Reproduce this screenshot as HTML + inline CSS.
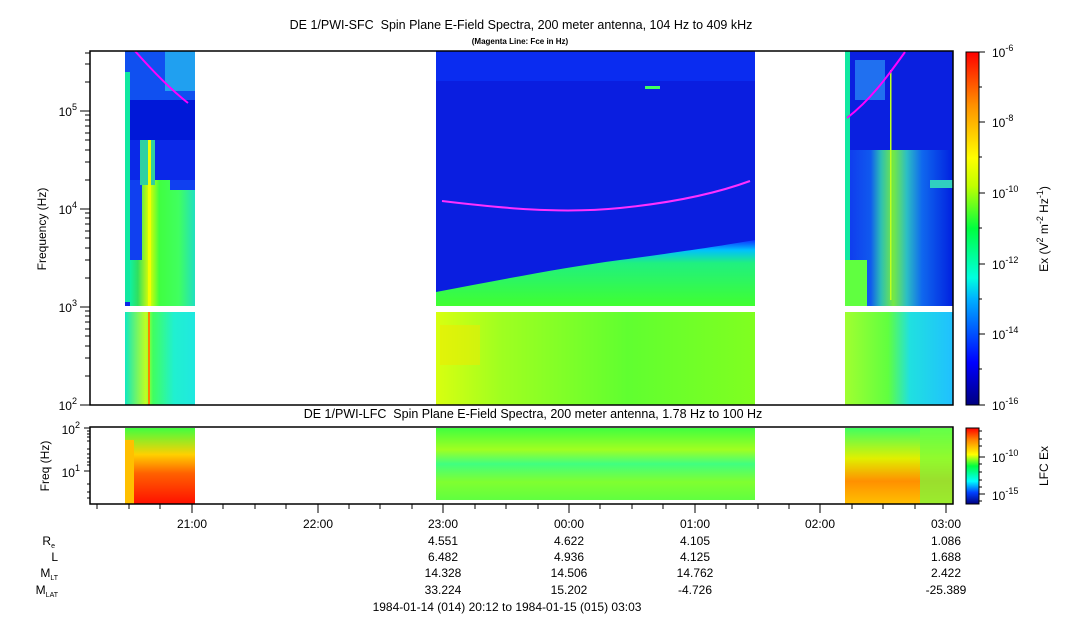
<!DOCTYPE html>
<html><head><meta charset="utf-8"><style>
body{margin:0;background:#fff;}
svg{display:block;font-family:"Liberation Sans",sans-serif;}
</style></head><body>
<svg width="1083" height="620" viewBox="0 0 1083 620" xmlns="http://www.w3.org/2000/svg">
<defs>
<linearGradient id="cb" x1="0" y1="1" x2="0" y2="0">
<stop offset="0" stop-color="#00007f"/><stop offset="0.12" stop-color="#0000ff"/>
<stop offset="0.3" stop-color="#00b0ff"/><stop offset="0.36" stop-color="#00ffe0"/>
<stop offset="0.5" stop-color="#00ff40"/><stop offset="0.62" stop-color="#c0ff00"/>
<stop offset="0.7" stop-color="#ffff00"/><stop offset="0.85" stop-color="#ff9000"/>
<stop offset="1" stop-color="#ff0000"/></linearGradient>
<linearGradient id="cb2" x1="0" y1="1" x2="0" y2="0">
<stop offset="0" stop-color="#00007f"/><stop offset="0.15" stop-color="#0040ff"/>
<stop offset="0.3" stop-color="#00ffff"/><stop offset="0.5" stop-color="#00ff40"/>
<stop offset="0.65" stop-color="#ffff00"/><stop offset="0.85" stop-color="#ff8000"/>
<stop offset="1" stop-color="#ff0000"/></linearGradient>
<linearGradient id="s2low" x1="0" y1="0" x2="0" y2="1">
<stop offset="0" stop-color="#1030ff"/><stop offset="0.15" stop-color="#00c0ff"/>
<stop offset="0.35" stop-color="#20f080"/><stop offset="1" stop-color="#40ff30"/></linearGradient>
<linearGradient id="s2b" x1="0" y1="0" x2="1" y2="0">
<stop offset="0" stop-color="#d8ff10"/><stop offset="0.2" stop-color="#a0ff20"/>
<stop offset="0.6" stop-color="#60ff30"/><stop offset="1" stop-color="#80ff20"/></linearGradient>
<linearGradient id="s1a" x1="0" y1="0" x2="1" y2="0">
<stop offset="0" stop-color="#10f0a0"/><stop offset="0.12" stop-color="#30e060"/>
<stop offset="0.3" stop-color="#e0ff00"/><stop offset="0.45" stop-color="#40ff40"/>
<stop offset="0.75" stop-color="#40ff60"/><stop offset="1" stop-color="#20e0c0"/></linearGradient>
<linearGradient id="s1b" x1="0" y1="0" x2="1" y2="0">
<stop offset="0" stop-color="#10e8c0"/><stop offset="0.3" stop-color="#c0ff20"/>
<stop offset="0.4" stop-color="#40ff60"/><stop offset="0.7" stop-color="#20f0d0"/>
<stop offset="1" stop-color="#20e8e0"/></linearGradient>
<linearGradient id="s3a" x1="0" y1="0" x2="1" y2="0">
<stop offset="0" stop-color="#1040f0"/><stop offset="0.2" stop-color="#1060f0"/>
<stop offset="0.3" stop-color="#30d0b0"/><stop offset="0.42" stop-color="#80ff30"/>
<stop offset="0.55" stop-color="#30d0c0"/><stop offset="0.7" stop-color="#1070f0"/><stop offset="1" stop-color="#0020e0"/></linearGradient>
<linearGradient id="s3b" x1="0" y1="0" x2="1" y2="0">
<stop offset="0" stop-color="#a0ff30"/><stop offset="0.4" stop-color="#60ff40"/>
<stop offset="0.6" stop-color="#20e0e0"/><stop offset="1" stop-color="#20c0ff"/></linearGradient>
<linearGradient id="l1" x1="0" y1="0" x2="0" y2="1">
<stop offset="0" stop-color="#40ff40"/><stop offset="0.35" stop-color="#ffd000"/>
<stop offset="0.6" stop-color="#ff6000"/><stop offset="1" stop-color="#ff1000"/></linearGradient>
<linearGradient id="l2" x1="0" y1="0" x2="0" y2="1">
<stop offset="0" stop-color="#40ff40"/><stop offset="0.3" stop-color="#a0ff20"/>
<stop offset="0.5" stop-color="#40ff80"/><stop offset="0.75" stop-color="#80ff30"/>
<stop offset="1" stop-color="#60ff40"/></linearGradient>
<linearGradient id="l3" x1="0" y1="0" x2="0" y2="1">
<stop offset="0" stop-color="#40ff60"/><stop offset="0.4" stop-color="#e0f000"/>
<stop offset="0.7" stop-color="#ff9000"/><stop offset="1" stop-color="#ffc000"/></linearGradient>
</defs>

<text x="521" y="29" font-size="12.5" text-anchor="middle">DE 1/PWI-SFC&#160;&#160;Spin Plane E-Field Spectra, 200 meter antenna, 104 Hz to 409 kHz</text>
<text x="520" y="44" font-size="8" font-weight="bold" text-anchor="middle">(Magenta Line: Fce in Hz)</text>

<!-- section 1 -->
<rect x="125" y="51" width="70" height="255" fill="#0a28e8"/>
<rect x="125" y="51" width="70" height="50" fill="#1050f0"/>
<rect x="165" y="51" width="30" height="40" fill="#20a0f0"/>
<rect x="125" y="100" width="70" height="40" fill="#0018d8"/>
<rect x="125" y="72" width="5" height="230" fill="#10e8a0"/>
<rect x="130" y="180" width="65" height="126" fill="url(#s1a)"/>
<rect x="130" y="180" width="12" height="80" fill="#1040f0"/>
<rect x="170" y="180" width="25" height="10" fill="#1040f0"/>
<rect x="140" y="140" width="15" height="45" fill="#30d0a0"/>
<rect x="148" y="140" width="3" height="166" fill="#f0ff00"/>
<rect x="125" y="312" width="70" height="93" fill="url(#s1b)"/>
<rect x="148" y="312" width="2" height="93" fill="#ff8000"/>
<path d="M135 51 Q165 85 188 103" stroke="#ff00ff" stroke-width="2" fill="none"/>

<!-- section 2 -->
<rect x="436" y="51" width="319" height="255" fill="#0a1ee0"/>
<rect x="436" y="51" width="319" height="30" fill="#0a2cf0"/>
<path d="M436 292 C500 280 560 268 620 260 C680 252 720 246 755 240 L755 306 L436 306 Z" fill="url(#s2low)"/>
<rect x="436" y="312" width="319" height="93" fill="url(#s2b)"/>
<rect x="440" y="325" width="40" height="40" fill="#f0e800" opacity="0.5"/>
<path d="M442 201 C500 208 560 214 620 208 C680 202 720 192 750 181" stroke="#ff30ff" stroke-width="2" fill="none"/>
<rect x="645" y="86" width="15" height="3" fill="#40ff60"/>

<!-- section 3 -->
<rect x="845" y="51" width="108" height="255" fill="#0a20e0"/>
<rect x="845" y="51" width="5" height="255" fill="#10e8a0"/>
<rect x="850" y="150" width="103" height="156" fill="url(#s3a)" opacity="0.9"/>
<rect x="855" y="60" width="30" height="40" fill="#2070f0"/>
<rect x="845" y="260" width="22" height="46" fill="#60ff40"/>
<rect x="890" y="70" width="1.5" height="230" fill="#c0ff20"/>
<rect x="930" y="180" width="23" height="8" fill="#30d0c0"/>
<rect x="845" y="312" width="108" height="93" fill="url(#s3b)"/>
<path d="M847 118 C870 100 885 80 905 52" stroke="#ff00ff" stroke-width="2" fill="none"/>

<!-- axes top -->
<rect x="90" y="51" width="863" height="354" fill="none" stroke="#000" stroke-width="1.5"/>
<g stroke="#000" stroke-width="1">
<line x1="80" y1="111" x2="90" y2="111"/><line x1="80" y1="209" x2="90" y2="209"/><line x1="80" y1="307" x2="90" y2="307"/><line x1="80" y1="405" x2="90" y2="405"/>
<line x1="85" y1="82" x2="90" y2="82"/><line x1="85" y1="64" x2="90" y2="64"/><line x1="85" y1="53" x2="90" y2="53"/>
<line x1="85" y1="180" x2="90" y2="180"/><line x1="85" y1="162" x2="90" y2="162"/><line x1="85" y1="150" x2="90" y2="150"/><line x1="85" y1="140" x2="90" y2="140"/><line x1="85" y1="133" x2="90" y2="133"/><line x1="85" y1="126" x2="90" y2="126"/><line x1="85" y1="120" x2="90" y2="120"/><line x1="85" y1="115" x2="90" y2="115"/>
<line x1="85" y1="278" x2="90" y2="278"/><line x1="85" y1="260" x2="90" y2="260"/><line x1="85" y1="248" x2="90" y2="248"/><line x1="85" y1="238" x2="90" y2="238"/><line x1="85" y1="231" x2="90" y2="231"/><line x1="85" y1="224" x2="90" y2="224"/><line x1="85" y1="218" x2="90" y2="218"/><line x1="85" y1="213" x2="90" y2="213"/>
<line x1="85" y1="376" x2="90" y2="376"/><line x1="85" y1="358" x2="90" y2="358"/><line x1="85" y1="346" x2="90" y2="346"/><line x1="85" y1="336" x2="90" y2="336"/><line x1="85" y1="329" x2="90" y2="329"/><line x1="85" y1="322" x2="90" y2="322"/><line x1="85" y1="316" x2="90" y2="316"/><line x1="85" y1="311" x2="90" y2="311"/>
</g>
<g font-size="12" text-anchor="end">
<text x="77" y="116">10<tspan font-size="9" dy="-6">5</tspan></text>
<text x="77" y="214">10<tspan font-size="9" dy="-6">4</tspan></text>
<text x="77" y="312">10<tspan font-size="9" dy="-6">3</tspan></text>
<text x="77" y="410">10<tspan font-size="9" dy="-6">2</tspan></text>
</g>
<text transform="translate(46,229) rotate(-90)" font-size="12" text-anchor="middle">Frequency (Hz)</text>

<!-- colorbar top -->
<rect x="966" y="52" width="13" height="353" fill="url(#cb)"/>
<rect x="966" y="52" width="13" height="353" fill="none" stroke="#000" stroke-width="1"/>
<g stroke="#000"><line x1="979" y1="52" x2="985" y2="52"/><line x1="979" y1="122" x2="985" y2="122"/><line x1="979" y1="193" x2="985" y2="193"/><line x1="979" y1="264" x2="985" y2="264"/><line x1="979" y1="334" x2="985" y2="334"/><line x1="979" y1="405" x2="985" y2="405"/>
<line x1="979" y1="87" x2="982" y2="87"/><line x1="979" y1="157" x2="982" y2="157"/><line x1="979" y1="228" x2="982" y2="228"/><line x1="979" y1="299" x2="982" y2="299"/><line x1="979" y1="369" x2="982" y2="369"/></g>
<g font-size="12">
<text x="992" y="57">10<tspan font-size="9" dy="-6">-6</tspan></text>
<text x="992" y="127">10<tspan font-size="9" dy="-6">-8</tspan></text>
<text x="992" y="198">10<tspan font-size="9" dy="-6">-10</tspan></text>
<text x="992" y="269">10<tspan font-size="9" dy="-6">-12</tspan></text>
<text x="992" y="339">10<tspan font-size="9" dy="-6">-14</tspan></text>
<text x="992" y="410">10<tspan font-size="9" dy="-6">-16</tspan></text>
</g>
<text transform="translate(1048,229) rotate(-90)" font-size="12" text-anchor="middle">Ex (V<tspan font-size="9" dy="-5">2</tspan><tspan dy="5"> m</tspan><tspan font-size="9" dy="-5">-2</tspan><tspan dy="5"> Hz</tspan><tspan font-size="9" dy="-5">-1</tspan><tspan dy="5">)</tspan></text>

<!-- lower panel -->
<text x="533" y="418" font-size="12.5" text-anchor="middle">DE 1/PWI-LFC&#160;&#160;Spin Plane E-Field Spectra, 200 meter antenna, 1.78 Hz to 100 Hz</text>
<rect x="125" y="428" width="70" height="76" fill="url(#l1)"/>
<rect x="125" y="440" width="9" height="64" fill="#ffc000"/>
<rect x="436" y="428" width="319" height="72" fill="url(#l2)"/>
<rect x="845" y="428" width="108" height="76" fill="url(#l3)"/>
<rect x="920" y="428" width="33" height="76" fill="#70ff40" opacity="0.7"/>
<rect x="90" y="427" width="863" height="77" fill="none" stroke="#000" stroke-width="1.5"/>
<g stroke="#000"><line x1="84" y1="428" x2="90" y2="428"/><line x1="84" y1="471" x2="90" y2="471"/>
<line x1="87" y1="441" x2="90" y2="441"/><line x1="87" y1="449" x2="90" y2="449"/><line x1="87" y1="454" x2="90" y2="454"/><line x1="87" y1="458" x2="90" y2="458"/><line x1="87" y1="462" x2="90" y2="462"/><line x1="87" y1="465" x2="90" y2="465"/><line x1="87" y1="484" x2="90" y2="484"/><line x1="87" y1="492" x2="90" y2="492"/><line x1="87" y1="498" x2="90" y2="498"/>
<line x1="87" y1="431" x2="90" y2="431"/><line x1="87" y1="434" x2="90" y2="434"/><line x1="87" y1="437" x2="90" y2="437"/></g>
<g font-size="12" text-anchor="end">
<text x="80" y="434">10<tspan font-size="9" dy="-6">2</tspan></text>
<text x="80" y="477">10<tspan font-size="9" dy="-6">1</tspan></text>
</g>
<text transform="translate(49,466) rotate(-90)" font-size="12" text-anchor="middle">Freq (Hz)</text>
<rect x="966" y="428" width="13" height="76" fill="url(#cb2)" stroke="#000" stroke-width="1"/>
<g stroke="#000"><line x1="979" y1="457" x2="985" y2="457"/><line x1="979" y1="494" x2="985" y2="494"/>
<line x1="979" y1="431" x2="982" y2="431"/><line x1="979" y1="439" x2="982" y2="439"/><line x1="979" y1="446" x2="982" y2="446"/><line x1="979" y1="464" x2="982" y2="464"/><line x1="979" y1="472" x2="982" y2="472"/><line x1="979" y1="480" x2="982" y2="480"/><line x1="979" y1="487" x2="982" y2="487"/><line x1="979" y1="501" x2="982" y2="501"/></g>
<g font-size="12"><text x="992" y="462">10<tspan font-size="9" dy="-6">-10</tspan></text><text x="992" y="500">10<tspan font-size="9" dy="-6">-15</tspan></text></g>
<text transform="translate(1048,466) rotate(-90)" font-size="12" text-anchor="middle">LFC Ex</text>

<!-- time axis -->
<g stroke="#000">
<line x1="97" y1="504" x2="97" y2="509"/><line x1="129" y1="504" x2="129" y2="509"/><line x1="160" y1="504" x2="160" y2="509"/><line x1="192" y1="504" x2="192" y2="513"/>
<line x1="223" y1="504" x2="223" y2="509"/><line x1="255" y1="504" x2="255" y2="509"/><line x1="286" y1="504" x2="286" y2="509"/><line x1="318" y1="504" x2="318" y2="513"/>
<line x1="349" y1="504" x2="349" y2="509"/><line x1="380" y1="504" x2="380" y2="509"/><line x1="412" y1="504" x2="412" y2="509"/><line x1="443" y1="504" x2="443" y2="513"/>
<line x1="475" y1="504" x2="475" y2="509"/><line x1="506" y1="504" x2="506" y2="509"/><line x1="538" y1="504" x2="538" y2="509"/><line x1="569" y1="504" x2="569" y2="513"/>
<line x1="600" y1="504" x2="600" y2="509"/><line x1="632" y1="504" x2="632" y2="509"/><line x1="663" y1="504" x2="663" y2="509"/><line x1="695" y1="504" x2="695" y2="513"/>
<line x1="726" y1="504" x2="726" y2="509"/><line x1="758" y1="504" x2="758" y2="509"/><line x1="789" y1="504" x2="789" y2="509"/><line x1="820" y1="504" x2="820" y2="513"/>
<line x1="852" y1="504" x2="852" y2="509"/><line x1="883" y1="504" x2="883" y2="509"/><line x1="915" y1="504" x2="915" y2="509"/><line x1="946" y1="504" x2="946" y2="513"/>
</g>
<g font-size="12" text-anchor="middle">
<text x="192" y="528">21:00</text><text x="318" y="528">22:00</text><text x="443" y="528">23:00</text><text x="569" y="528">00:00</text><text x="695" y="528">01:00</text><text x="820" y="528">02:00</text><text x="946" y="528">03:00</text>
<text x="443" y="545">4.551</text><text x="569" y="545">4.622</text><text x="695" y="545">4.105</text><text x="946" y="545">1.086</text>
<text x="443" y="561">6.482</text><text x="569" y="561">4.936</text><text x="695" y="561">4.125</text><text x="946" y="561">1.688</text>
<text x="443" y="577">14.328</text><text x="569" y="577">14.506</text><text x="695" y="577">14.762</text><text x="946" y="577">2.422</text>
<text x="443" y="594">33.224</text><text x="569" y="594">15.202</text><text x="695" y="594">-4.726</text><text x="946" y="594">-25.389</text>
<text x="507" y="611">1984-01-14 (014) 20:12 to 1984-01-15 (015) 03:03</text>
</g>
<g font-size="12" text-anchor="end">
<text x="55" y="545">R<tspan font-size="7" dy="3">e</tspan></text>
<text x="58" y="561">L</text>
<text x="58" y="577">M<tspan font-size="7" dy="3">LT</tspan></text>
<text x="58" y="594">M<tspan font-size="7" dy="3">LAT</tspan></text>
</g>
</svg>
</body></html>
